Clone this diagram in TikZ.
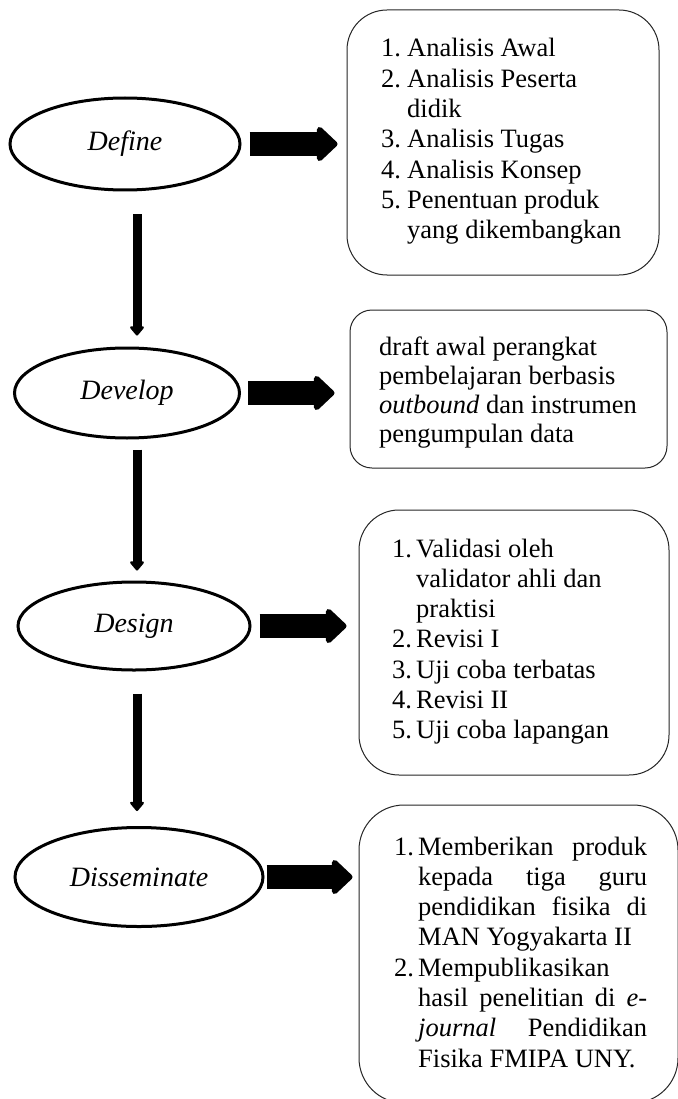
\documentclass[tikz,border=0pt]{standalone}
\usepackage{fontspec}
\setmainfont{Liberation Serif}
\usetikzlibrary{arrows.meta,shapes.geometric}
\tikzset{
  phase/.style={ellipse, draw, line width=3pt, inner sep=0pt, font=\fontsize{28}{32}\selectfont\itshape},
  blockarrow/.style={line width=24pt, -{Triangle[length=22pt, width=40pt, round]}},
  downarrow/.style={line width=9pt, -{Triangle[length=10pt, width=16pt, round]}},
  roundbox/.style={draw=black!85, line width=1pt, rounded corners=40pt, inner sep=0pt},
  boxtext/.style={anchor=base west, inner sep=0pt, font=\fontsize{26.5}{30.3}\selectfont},
}
\begin{document}
\begin{tikzpicture}[x=1pt, y=-1pt]
\useasboundingbox (0,0) rectangle (677,1099);
\fill[white] (0,0) rectangle (677,1099);
% phases
\node[phase, minimum width=230pt, minimum height=92pt] (def) at (125,144) {Define};
\node[phase, minimum width=225pt, minimum height=90pt] (dev) at (127,393) {Develop};
\node[phase, minimum width=232pt, minimum height=88pt] (des) at (134,626) {Design};
\node[phase, minimum width=248pt, minimum height=99pt] (dis) at (139,877) {Disseminate};
% boxes
\node[roundbox, minimum width=312pt, minimum height=265pt] (box1) at (503,142.5) {};
\node[roundbox, rounded corners=22pt, minimum width=317pt, minimum height=158pt] (box2) at (508.5,389) {};
\node[roundbox, minimum width=310pt, minimum height=265pt] (box3) at (514,642.5) {};
\node[roundbox, rounded corners=45pt, minimum width=319pt, minimum height=298pt] (box4) at (518.5,954) {};
% box texts
\node[boxtext] (t1) at (381,57) {\begin{tabular}[t]{@{}p{26pt}@{}l@{}}
1. & Analisis Awal\\
2. & Analisis Peserta\\
   & didik\\
3. & Analisis Tugas\\
4. & Analisis Konsep\\
5. & Penentuan produk\\
   & yang dikembangkan
\end{tabular}};
\node[boxtext, font=\fontsize{26.5}{29.3}\selectfont] (t2) at (379,355) {\begin{tabular}[t]{@{}l@{}}
draft awal perangkat\\
pembelajaran berbasis\\
\textit{outbound} dan instrumen\\
pengumpulan data
\end{tabular}};
\node[boxtext] (t3) at (392,557) {\begin{tabular}[t]{@{}p{24pt}@{}l@{}}
1. & Validasi oleh\\
   & validator ahli dan\\
   & praktisi\\
2. & Revisi I\\
3. & Uji coba terbatas\\
4. & Revisi II\\
5. & Uji coba lapangan
\end{tabular}};
\node[boxtext] (t4) at (394,855) {\begin{tabular}[t]{@{}p{24pt}@{}l@{}}
1. & \makebox[229pt][s]{Memberikan produk}\\
   & \makebox[229pt][s]{kepada tiga guru}\\
   & \makebox[229pt][s]{pendidikan fisika di}\\
   & MAN Yogyakarta II\\
2. & Mempublikasikan\\
   & \makebox[229pt][s]{hasil penelitian di \textit{e-}}\\
   & \makebox[229pt][s]{\textit{journal} Pendidikan}\\
   & Fisika FMIPA UNY.
\end{tabular}};
% horizontal block arrows
\draw[blockarrow, shorten <=8pt, shorten >=9pt] (def.east) -- (def.east -| box1.west);
\draw[blockarrow, shorten <=7pt, shorten >=15pt] (dev.east) -- (dev.east -| box2.west);
\draw[blockarrow, shorten <=8pt, shorten >=12pt] (des.east) -- (des.east -| box3.west);
\draw[blockarrow, shorten <=2pt, shorten >=6pt] (dis.east) -- (dis.east -| box4.west);
% vertical arrows
\coordinate (col) at (137,0);
\draw[downarrow, shorten <=23pt, shorten >=11pt] (col |- def.south) -- (col |- dev.north);
\draw[downarrow, shorten <=10pt, shorten >=10pt] (col |- dev.south) -- (col |- des.north);
\draw[downarrow, shorten <=22pt, shorten >=15pt] (col |- des.south) -- (col |- dis.north);
\end{tikzpicture}
\end{document}
